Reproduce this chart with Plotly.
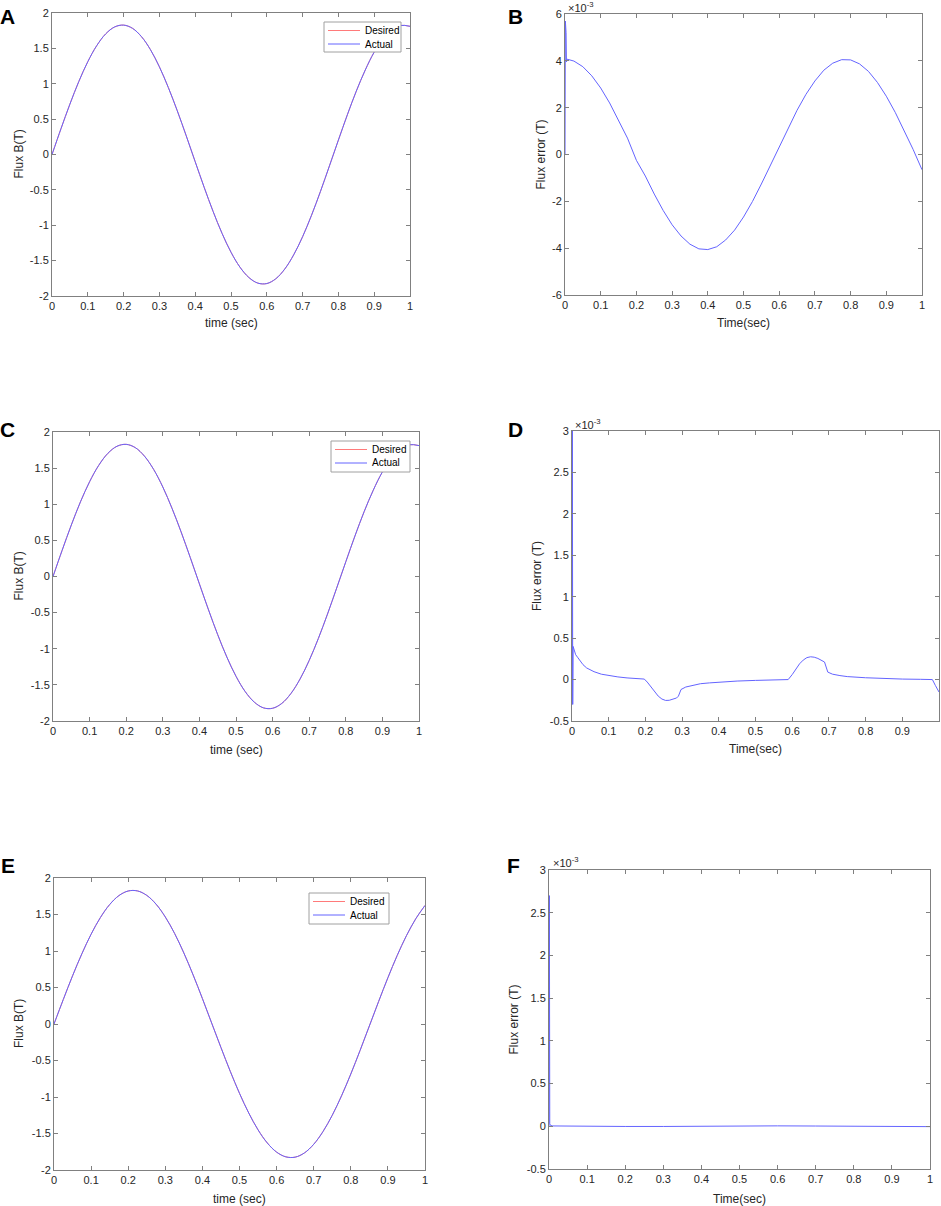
import plotly.graph_objects as go

W, H = 941, 1206
FONT = "Liberation Sans, Arial, sans-serif"
TEXT = "#262626"
AXIS = "#808080"
BLUE = "#6464ff"
RED = "#ff7a7a"

# sample times for the flux curves (sec)
time_grid = [0, 0.025, 0.05, 0.075, 0.1, 0.125, 0.15, 0.175, 0.2, 0.225,
             0.25, 0.275, 0.3, 0.325, 0.35, 0.375, 0.4, 0.425, 0.45, 0.475,
             0.5, 0.525, 0.55, 0.575, 0.6, 0.625, 0.65, 0.675, 0.7, 0.725,
             0.75, 0.775, 0.8, 0.825, 0.85, 0.875, 0.9, 0.925, 0.95, 0.975, 1.0]

# flux B (T), panels A and C
flux_ac = [0, 0.363, 0.712, 1.033, 1.312, 1.539, 1.705, 1.803, 1.829, 1.783,
           1.665, 1.482, 1.239, 0.946, 0.617, 0.263, -0.102, -0.463, -0.805, -1.115,
           -1.381, -1.592, -1.739, -1.818, -1.824, -1.757, -1.620, -1.419, -1.162, -0.858,
           -0.520, -0.161, 0.204, 0.561, 0.896, 1.194, 1.447, 1.636, 1.762, 1.824, 1.812]

# flux B (T), panel E
flux_e = [0, 0.335, 0.660, 0.961, 1.230, 1.458, 1.636, 1.759, 1.822, 1.823,
          1.762, 1.642, 1.466, 1.241, 0.973, 0.672, 0.349, 0.013, -0.322, -0.647,
          -0.950, -1.220, -1.450, -1.630, -1.755, -1.820, -1.824, -1.766, -1.648, -1.474,
          -1.250, -0.984, -0.685, -0.362, -0.027, 0.309, 0.634, 0.938, 1.210, 1.441, 1.624]

# flux error, in units of 1e-3 T
t_err_b = [0, 0.001, 0.002, 0.003, 0.004, 0.006] + time_grid[1:]
err_b = [0, 5.7, 3.9, 5.2, 3.95, 4.07,
         3.99, 3.75, 3.36, 2.84, 2.20, 1.48, 0.70, -0.25, -0.92, -1.69,
         -2.39, -3.00, -3.48, -3.83, -4.03, -4.06, -3.94, -3.65, -3.23, -2.67,
         -2.01, -1.26, -0.47, 0.34, 1.14, 1.89, 2.57, 3.14, 3.60, 3.90,
         4.05, 4.04, 3.87, 3.55, 3.08, 2.49, 1.80, 1.03, 0.22, -0.65]

t_err_d = [0, 0.001, 0.002, 0.003, 0.006, 0.01, 0.015, 0.02, 0.03, 0.04,
           0.05, 0.06, 0.08, 0.1, 0.125, 0.15, 0.175, 0.197, 0.205, 0.215,
           0.225, 0.235, 0.245, 0.255, 0.265, 0.275, 0.285, 0.29, 0.297, 0.31,
           0.33, 0.35, 0.375, 0.4, 0.45, 0.5, 0.55, 0.589, 0.6, 0.61,
           0.62, 0.63, 0.64, 0.65, 0.66, 0.67, 0.68, 0.688, 0.697, 0.71,
           0.73, 0.75, 0.8, 0.85, 0.9, 0.95, 0.982, 0.99, 1.0]
err_d = [-0.3, 3.1, -0.3, 0.4, 0.35, 0.3, 0.27, 0.24, 0.18, 0.14,
         0.115, 0.095, 0.065, 0.048, 0.032, 0.02, 0.012, 0.006, -0.03, -0.09,
         -0.15, -0.2, -0.235, -0.252, -0.25, -0.24, -0.222, -0.2, -0.12, -0.09,
         -0.07, -0.05, -0.04, -0.03, -0.018, -0.01, -0.005, 0.0, 0.06, 0.13,
         0.19, 0.235, 0.265, 0.275, 0.27, 0.255, 0.23, 0.212, 0.09, 0.065,
         0.048, 0.036, 0.022, 0.012, 0.006, 0.003, 0.0, -0.07, -0.15]

t_err_f = [0, 0.001, 0.002, 0.004, 0.01, 0.05, 0.1, 0.2, 0.3, 0.4, 0.5, 0.6, 0.7, 0.8, 0.9, 0.99, 1.0]
err_f = [0, 2.7, 0.03, 0.01, 0.004, 0.001, 0, -0.002, -0.002, 0.002, 0.004, 0.005, 0.003, 0, -0.002, -0.003, -0.004]

legend_labels = ["Desired", "Actual"]

x_ticks = [0, 0.1, 0.2, 0.3, 0.4, 0.5, 0.6, 0.7, 0.8, 0.9, 1]
x_ticktext = ["0", "0.1", "0.2", "0.3", "0.4", "0.5", "0.6", "0.7", "0.8", "0.9", "1"]
flux_ticks = [-2, -1.5, -1, -0.5, 0, 0.5, 1, 1.5, 2]
flux_ticktext = ["-2", "-1.5", "-1", "-0.5", "0", "0.5", "1", "1.5", "2"]
err_b_ticks = [-6, -4, -2, 0, 2, 4, 6]
err_b_ticktext = ["-6", "-4", "-2", "0", "2", "4", "6"]
err_df_ticks = [-0.5, 0, 0.5, 1, 1.5, 2, 2.5, 3]
err_df_ticktext = ["-0.5", "0", "0.5", "1", "1.5", "2", "2.5", "3"]


def px_x(x):
    return x / W


def px_y(y):
    return 1 - y / H


# panel boxes in pixels: left, right, top, bottom
panels = [
    dict(letter="A", box=(52, 410, 13, 296), xt="time (sec)", yt="Flux B(T)",
         yr=[-2, 2], yv=flux_ticks, ytxt=flux_ticktext, letter_xy=(8, 17),
         ylab_x=18, xlab_y=323, legend=(324, 401, 22, 52)),
    dict(letter="B", box=(565, 922, 14, 295), xt="Time(sec)", yt="Flux error (T)",
         yr=[-6, 6], yv=err_b_ticks, ytxt=err_b_ticktext, letter_xy=(515, 17),
         ylab_x=540, xlab_y=323, expo=(566, 7)),
    dict(letter="C", box=(53, 419, 432, 721), xt="time (sec)", yt="Flux B(T)",
         yr=[-2, 2], yv=flux_ticks, ytxt=flux_ticktext, letter_xy=(8, 429),
         ylab_x=18, xlab_y=750, legend=(331, 410, 441, 472)),
    dict(letter="D", box=(572, 939, 431, 721), xt="Time(sec)", yt="Flux error (T)",
         yr=[-0.5, 3], yv=err_df_ticks, ytxt=err_df_ticktext, letter_xy=(515, 429),
         ylab_x=537, xlab_y=749, expo=(573, 424)),
    dict(letter="E", box=(54, 425, 878, 1170), xt="time (sec)", yt="Flux B(T)",
         yr=[-2, 2], yv=flux_ticks, ytxt=flux_ticktext, letter_xy=(8, 865),
         ylab_x=19, xlab_y=1199, legend=(309, 389, 893, 924)),
    dict(letter="F", box=(549, 930, 870, 1169), xt="Time(sec)", yt="Flux error (T)",
         yr=[-0.5, 3], yv=err_df_ticks, ytxt=err_df_ticktext, letter_xy=(513, 866),
         ylab_x=513, xlab_y=1199, expo=(551, 862)),
]

fig = go.Figure()

# flux panels: desired (red) under actual (blue)
for n, values in [(1, flux_ac), (3, flux_ac), (5, flux_e)]:
    xa = "x" if n == 1 else f"x{n}"
    ya = "y" if n == 1 else f"y{n}"
    fig.add_trace(go.Scatter(x=time_grid, y=values, mode="lines", name="Desired",
                             line=dict(color=RED, width=1, shape="spline"),
                             xaxis=xa, yaxis=ya, showlegend=False))
    fig.add_trace(go.Scatter(x=time_grid, y=values, mode="lines", name="Actual",
                             line=dict(color=BLUE, width=1, shape="spline"),
                             xaxis=xa, yaxis=ya, showlegend=False))

for n, tt, values in [(2, t_err_b, err_b), (4, t_err_d, err_d), (6, t_err_f, err_f)]:
    fig.add_trace(go.Scatter(x=tt, y=values, mode="lines", name="Error", showlegend=False,
                             line=dict(color=BLUE, width=1), xaxis=f"x{n}", yaxis=f"y{n}"))

annotations = []
shapes = []
for i, p in enumerate(panels):
    n = i + 1
    sfx = "" if n == 1 else str(n)
    left, right, top, bottom = p["box"]
    common = dict(showline=True, linecolor=AXIS, linewidth=1, mirror="ticks",
                  ticks="inside", ticklen=4, tickcolor=AXIS, showgrid=False,
                  zeroline=False, automargin=False,
                  tickfont=dict(family=FONT, size=11, color=TEXT), tickmode="array")
    fig.layout[f"xaxis{sfx}"] = dict(
        domain=[px_x(left), px_x(right)], range=[0, 1], anchor=f"y{sfx}",
        tickvals=x_ticks, ticktext=x_ticktext, **common)
    fig.layout[f"yaxis{sfx}"] = dict(
        domain=[px_y(bottom), px_y(top)], range=p["yr"], anchor=f"x{sfx}",
        tickvals=p["yv"], ticktext=p["ytxt"], **common)

    centred = dict(xref="paper", yref="paper", showarrow=False,
                   xanchor="center", yanchor="middle")
    lx, ly = p["letter_xy"]
    annotations.append(dict(text=f"<b>{p['letter']}</b>", x=px_x(lx), y=px_y(ly),
                            font=dict(family=FONT, size=21, color="black"), **centred))
    annotations.append(dict(text=p["xt"], x=px_x((left + right) / 2), y=px_y(p["xlab_y"]),
                            font=dict(family=FONT, size=12, color=TEXT), **centred))
    annotations.append(dict(text=p["yt"], x=px_x(p["ylab_x"]), y=px_y((top + bottom) / 2),
                            textangle=-90, font=dict(family=FONT, size=12, color=TEXT),
                            **centred))
    if "expo" in p:
        ex, ey = p["expo"]
        annotations.append(dict(text="\u00d710<sup>-3</sup>", x=px_x(ex), y=px_y(ey),
                                xref="paper", yref="paper", showarrow=False,
                                xanchor="left", yanchor="middle",
                                font=dict(family=FONT, size=11, color=TEXT)))
    if "legend" in p:
        bl, br, bt, bb = p["legend"]
        shapes.append(dict(type="rect", xref="paper", yref="paper",
                           x0=px_x(bl), x1=px_x(br), y0=px_y(bb), y1=px_y(bt),
                           line=dict(color="#a0a0a0", width=1), fillcolor="white", layer="above"))
        for k, (label, colour) in enumerate(zip(legend_labels, [RED, BLUE])):
            ry = bt + 8.5 + 13.5 * k
            shapes.append(dict(type="line", xref="paper", yref="paper",
                               x0=px_x(bl + 4), x1=px_x(bl + 36), y0=px_y(ry), y1=px_y(ry),
                               line=dict(color=colour, width=1), layer="above"))
            annotations.append(dict(text=label, x=px_x(bl + 39), y=px_y(ry),
                                    xref="paper", yref="paper", showarrow=False,
                                    xanchor="left", yanchor="middle",
                                    font=dict(family=FONT, size=10, color="black")))

fig.update_layout(
    width=W, height=H,
    margin=dict(l=0, r=0, t=0, b=0),
    paper_bgcolor="white", plot_bgcolor="white",
    annotations=annotations, shapes=shapes,
    showlegend=False,
)

# the page body has a default 8px margin; drop it so the figure fills the window
fig.write_html("out.html", config={"displayModeBar": False},
               post_script="document.body.style.margin = '0';")
